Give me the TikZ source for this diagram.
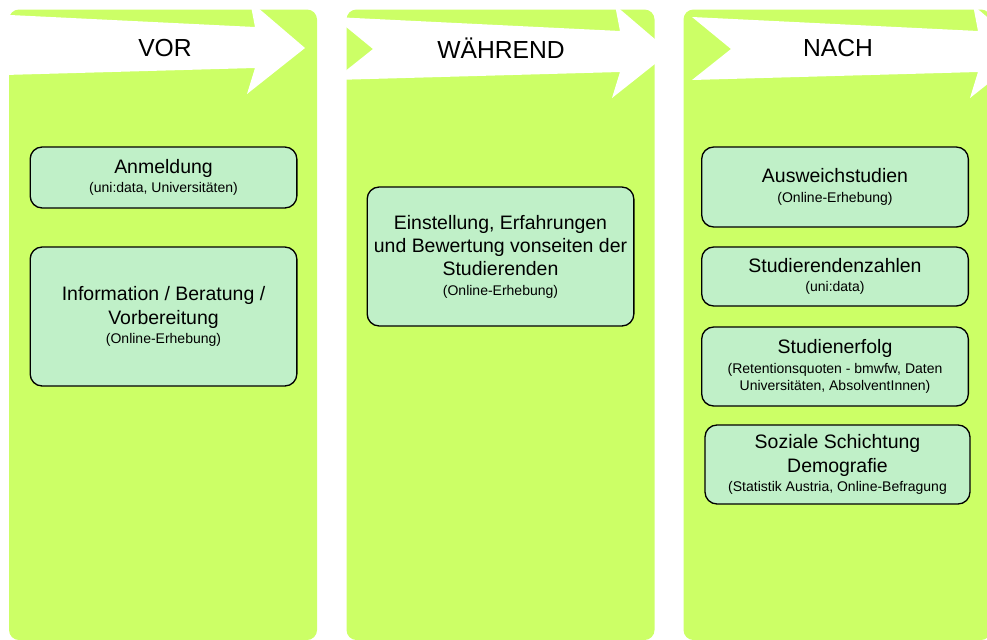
\documentclass[tikz,border=0pt]{standalone}
\usepackage{fontspec}
\setmainfont{Liberation Sans}
\definecolor{panelgreen}{RGB}{204,255,102}
\definecolor{boxgreen}{RGB}{192,240,200}
\newcommand{\srcfont}{\fontsize{10.5}{13}\selectfont}
\tikzset{
    phase/.style={font=\fontsize{18.5}{22}\selectfont},
    infobox/.style={draw, line width=1pt, fill=boxgreen, rounded corners=9pt,
        align=center, inner sep=0pt, minimum width=200pt,
        font=\fontsize{14.6}{17.5}\selectfont}
}

\begin{document}
\begin{tikzpicture}[x=0.75pt, y=-0.75pt]
        \clip (0,0) rectangle (987,639);
        \fill[panelgreen, rounded corners=7.5pt] (9,9.5) rectangle (317,640);
        \fill[panelgreen, rounded corners=7.5pt] (346.5,9.5) rectangle (654.5,640);
        \fill[panelgreen, rounded corners=7.5pt] (683.5,9.5) rectangle (991,640);
        \fill[white] (-31,13) -- (255,27) -- (250,1) -- (305,48) -- (247,94) -- (255,68) -- (-31,76) -- (8,45) -- cycle;
        \fill[white, shift={(365,4)}] (-31,13) -- (255,27) -- (250,1) -- (305,48) -- (247,94) -- (255,68) -- (-31,76) -- (8,45) -- cycle;
        \fill[white, shift={(723,4)}] (-31,13) -- (255,27) -- (250,1) -- (305,48) -- (247,94) -- (255,68) -- (-31,76) -- (8,45) -- cycle;
        \node[phase] (vor) at (165,48) {VOR};
        \node[phase] (waehrend) at (501,48) {WÄHREND};
        \node[phase] (nach) at (838,48) {NACH};
        \node[infobox, minimum height=45.75pt] (anmeldung) at (163.5,177.5)
            {Anmeldung\\[-3pt]{\srcfont (uni:data, Universitäten)}};
        \node[infobox, minimum height=104.25pt] (information) at (163.5,316.5)
            {Information / Beratung /\\Vorbereitung\\[-3pt]{\srcfont (Online-Erhebung)}};
        \node[infobox, minimum height=104.25pt] (einstellung) at (500.5,256.5)
            {Einstellung, Erfahrungen\\und Bewertung vonseiten der\\Studierenden\\[-3pt]{\srcfont (Online-Erhebung)}};
        \node[infobox, minimum height=60pt] (ausweich) at (835,187)
            {Ausweichstudien\\[-3pt]{\srcfont (Online-Erhebung)}};
        \node[infobox, minimum height=44.25pt] (zahlen) at (835,276.5)
            {Studierendenzahlen\\[-3pt]{\srcfont (uni:data)}};
        \node[infobox, minimum height=59.25pt] (erfolg) at (835,366.5)
            {Studienerfolg\\[-3pt]{\srcfont (Retentionsquoten - bmwfw, Daten}\\[-4.5pt]{\srcfont Universitäten, AbsolventInnen)}};
        \node[infobox, minimum width=198.75pt, minimum height=59.25pt] (sozial) at (837.5,464.5)
            {Soziale Schichtung\\Demografie\\[-3pt]{\srcfont (Statistik Austria, Online-Befragung}};
    \end{tikzpicture}
\end{document}
